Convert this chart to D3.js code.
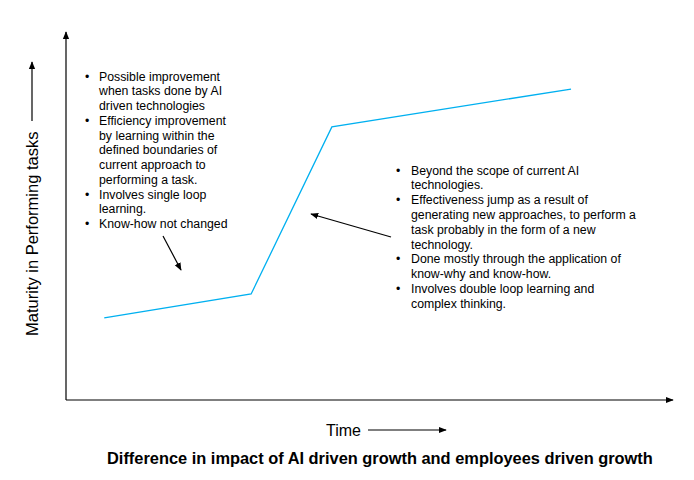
<!DOCTYPE html>
<html>
<head>
<meta charset="utf-8">
<script src="https://cdn.jsdelivr.net/npm/d3@7"></script>
<style>
  body { margin: 0; background: #fff; }
  svg { font-family: Arial, "Liberation Sans", sans-serif; }
</style>
</head>
<body>
<svg id="chart" width="694" height="480"></svg>
<script>
//////////
// DATA //
//////////

var timeValues = [0.63, 3.05, 4.38, 8.32],
    maturityValues = [2.23, 2.88, 7.42, 8.45];

var leftNotes = [
    ["Possible improvement", "when tasks done by AI", "driven technologies"],
    ["Efficiency improvement", "by learning within the", "defined boundaries of", "current approach to", "performing a task."],
    ["Involves single loop", "learning."],
    ["Know-how not changed"]
];

var rightNotes = [
    ["Beyond the scope of current AI", "technologies."],
    ["Effectiveness jump as a result of", "generating new approaches, to perform a", "task probably in the form of a new", "technology."],
    ["Done mostly through the application of", "know-why and know-how."],
    ["Involves double loop learning and", "complex thinking."]
];

var xLabel = "Time",
    yLabel = "Maturity in Performing tasks",
    title = "Difference in impact of AI driven growth and employees driven growth";

////////////////
// DIMENSIONS //
////////////////

var svg = d3.select('#chart'),
    plotLeft = 66, plotRight = 673, plotTop = 32, plotBottom = 400;

var x = d3.scaleLinear().domain([0, 10]).range([plotLeft, plotRight]),
    y = d3.scaleLinear().domain([0, 10]).range([plotBottom, plotTop]);

var defs = svg.append('defs');
defs.append('marker')
    .attr('id', 'head')
    .attr('viewBox', '0 0 10 10')
    .attr('refX', 9).attr('refY', 5)
    .attr('markerWidth', 8).attr('markerHeight', 8)
    .attr('markerUnits', 'userSpaceOnUse')
    .attr('orient', 'auto')
    .append('path')
    .attr('d', 'M0,1 L10,5 L0,9 Z')
    .attr('fill', '#000');

function arrow(x1, y1, x2, y2) {
    svg.append('line')
        .attr('x1', x1).attr('y1', y1)
        .attr('x2', x2).attr('y2', y2)
        .attr('stroke', '#000')
        .attr('stroke-width', 1.2)
        .attr('marker-end', 'url(#head)');
}

//////////
// AXES //
//////////

arrow(x(0), y(0), x(0), y(10));
arrow(x(0), y(0), x(10), y(0));

////////////
// SERIES //
////////////

var points = timeValues.map(function (t, i) { return [t, maturityValues[i]]; });

svg.append('path')
    .datum(points)
    .attr('fill', 'none')
    .attr('stroke', '#00b0f0')
    .attr('stroke-width', 1.3)
    .attr('d', d3.line().x(function (d) { return x(d[0]); }).y(function (d) { return y(d[1]); }));

///////////
// NOTES //
///////////

function bullets(list, bx, tx, y0, step) {
    var row = 0;
    list.forEach(function (item) {
        svg.append('text')
            .attr('x', bx).attr('y', y0 + row * step)
            .attr('font-size', 12.3).text('•');
        item.forEach(function (line) {
            svg.append('text')
                .attr('x', tx).attr('y', y0 + row * step)
                .attr('font-size', 12.3).attr('fill', '#000')
                .text(line);
            row++;
        });
    });
}

bullets(leftNotes, 85, 99, 80.5, 14.75);
bullets(rightNotes, 396, 411, 174.5, 14.8);

arrow(163, 236, 181, 270);
arrow(391, 237, 311, 214);

////////////
// LABELS //
////////////

svg.append('text')
    .attr('x', 326).attr('y', 436)
    .attr('font-size', 16).text(xLabel);
arrow(368, 430, 446, 430);

svg.append('text')
    .attr('transform', 'translate(38,336) rotate(-90)')
    .attr('font-size', 16.5).text(yLabel);
arrow(32, 121, 32, 62);

svg.append('text')
    .attr('x', 107).attr('y', 464)
    .attr('font-size', 16.4).attr('font-weight', 'bold')
    .text(title);
</script>
</body>
</html>
